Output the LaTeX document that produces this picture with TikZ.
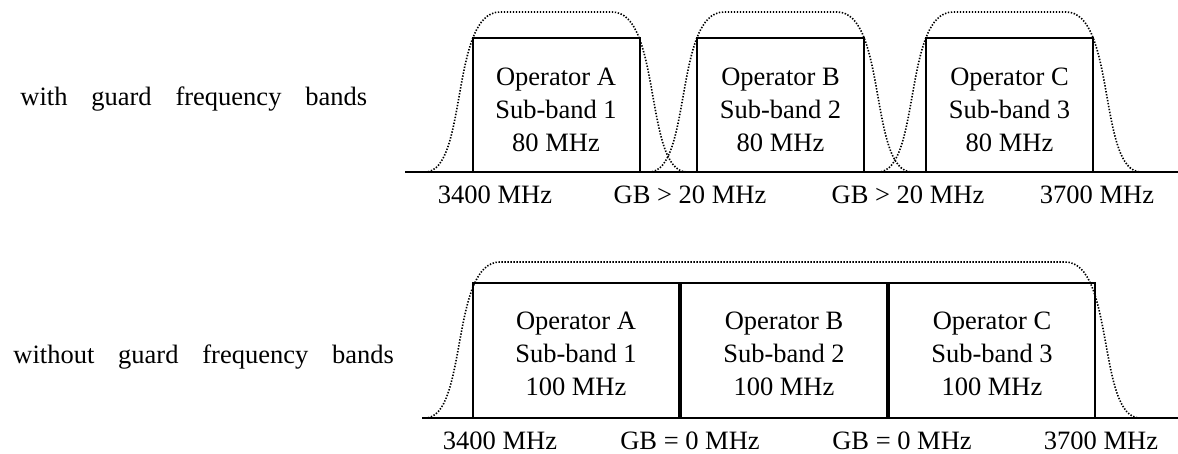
\documentclass[tikz,border=0pt]{standalone}
\usepackage{fontspec}
\setmainfont{Liberation Serif}
\newfontfamily\widefont[WordSpace=3.6]{Liberation Serif}
\usetikzlibrary{positioning}

\tikzset{
  band/.style={draw, line width=1pt, minimum width=83.5pt, minimum height=67pt, inner sep=0pt},
  wideband/.style={band, minimum width=103pt, minimum height=67.5pt},
  bandtext/.style={align=center, inner sep=0pt, yshift=#1},
  mask/.style={line width=0.8pt, dash pattern=on 0.7pt off 0.8pt},
  axisline/.style={line width=1pt},
}

\begin{document}
\begin{tikzpicture}[x=0.5pt,y=-0.5pt,every node/.style={font=\fontsize{13.25}{16.5}\selectfont}]
\useasboundingbox (0,0) rectangle (1178,454);

%with guard bands
\node [anchor=west, inner sep=0pt] (lblwith) at (20,99) {\widefont with guard frequency bands};
\coordinate (axisL) at (405,172);
\coordinate (axisR) at (1178,172);
\draw [axisline] (axisL) -- (axisR);
\node [band, label={[bandtext=-2.5pt]center:{Operator A\\Sub-band 1\\80 MHz}}] (opA) at (556,105) {};
\node [band, label={[bandtext=-2.5pt]center:{Operator B\\Sub-band 2\\80 MHz}}] (opB) at (780.5,105) {};
\node [band, label={[bandtext=-2.5pt]center:{Operator C\\Sub-band 3\\80 MHz}}] (opC) at (1009.5,105) {};
%masks
\draw [mask] (425,172) .. controls (468,172) and (450,12) .. (500,12) -- (612,12) .. controls (662,12) and (644,172) .. (687,172);
\draw [mask] (649,172) .. controls (692,172) and (674,12) .. (724,12) -- (837,12) .. controls (887,12) and (869,172) .. (912,172);
\draw [mask] (878,172) .. controls (921,172) and (903,12) .. (953,12) -- (1066,12) .. controls (1116,12) and (1098,172) .. (1141,172);
% Text Node
\node (fLow) at (495,195) {3400 MHz};
\node (gbAB) at (690,195) {GB > 20 MHz};
\node (gbBC) at (908,195) {GB > 20 MHz};
\node (fHigh) at (1097,195) {3700 MHz};

%without guard bands
\node [anchor=west, inner sep=0pt] (lblwithout) at (13,357) {\widefont without guard frequency bands};
\coordinate (axisL2) at (422,418);
\coordinate (axisR2) at (1178,418);
\draw [axisline] (axisL2) -- (axisR2);
\node [wideband, label={[bandtext=-1.5pt]center:{Operator A\\Sub-band 1\\100 MHz}}] (opA2) at (576,350.5) {};
\node [wideband, right=0pt of opA2, label={[bandtext=-1.5pt]center:{Operator B\\Sub-band 2\\100 MHz}}] (opB2) {};
\node [wideband, right=0pt of opB2, label={[bandtext=-1.5pt]center:{Operator C\\Sub-band 3\\100 MHz}}] (opC2) {};
%mask
\draw [mask] (425,418) .. controls (468,418) and (450,262) .. (500,262) -- (1065,262) .. controls (1115,262) and (1097,418) .. (1140,418);
% Text Node
\node (fLow2) at (500,441) {3400 MHz};
\node (gbAB2) at (690,441) {GB = 0 MHz};
\node (gbBC2) at (902,441) {GB = 0 MHz};
\node (fHigh2) at (1101,441) {3700 MHz};
\end{tikzpicture}
\end{document}
